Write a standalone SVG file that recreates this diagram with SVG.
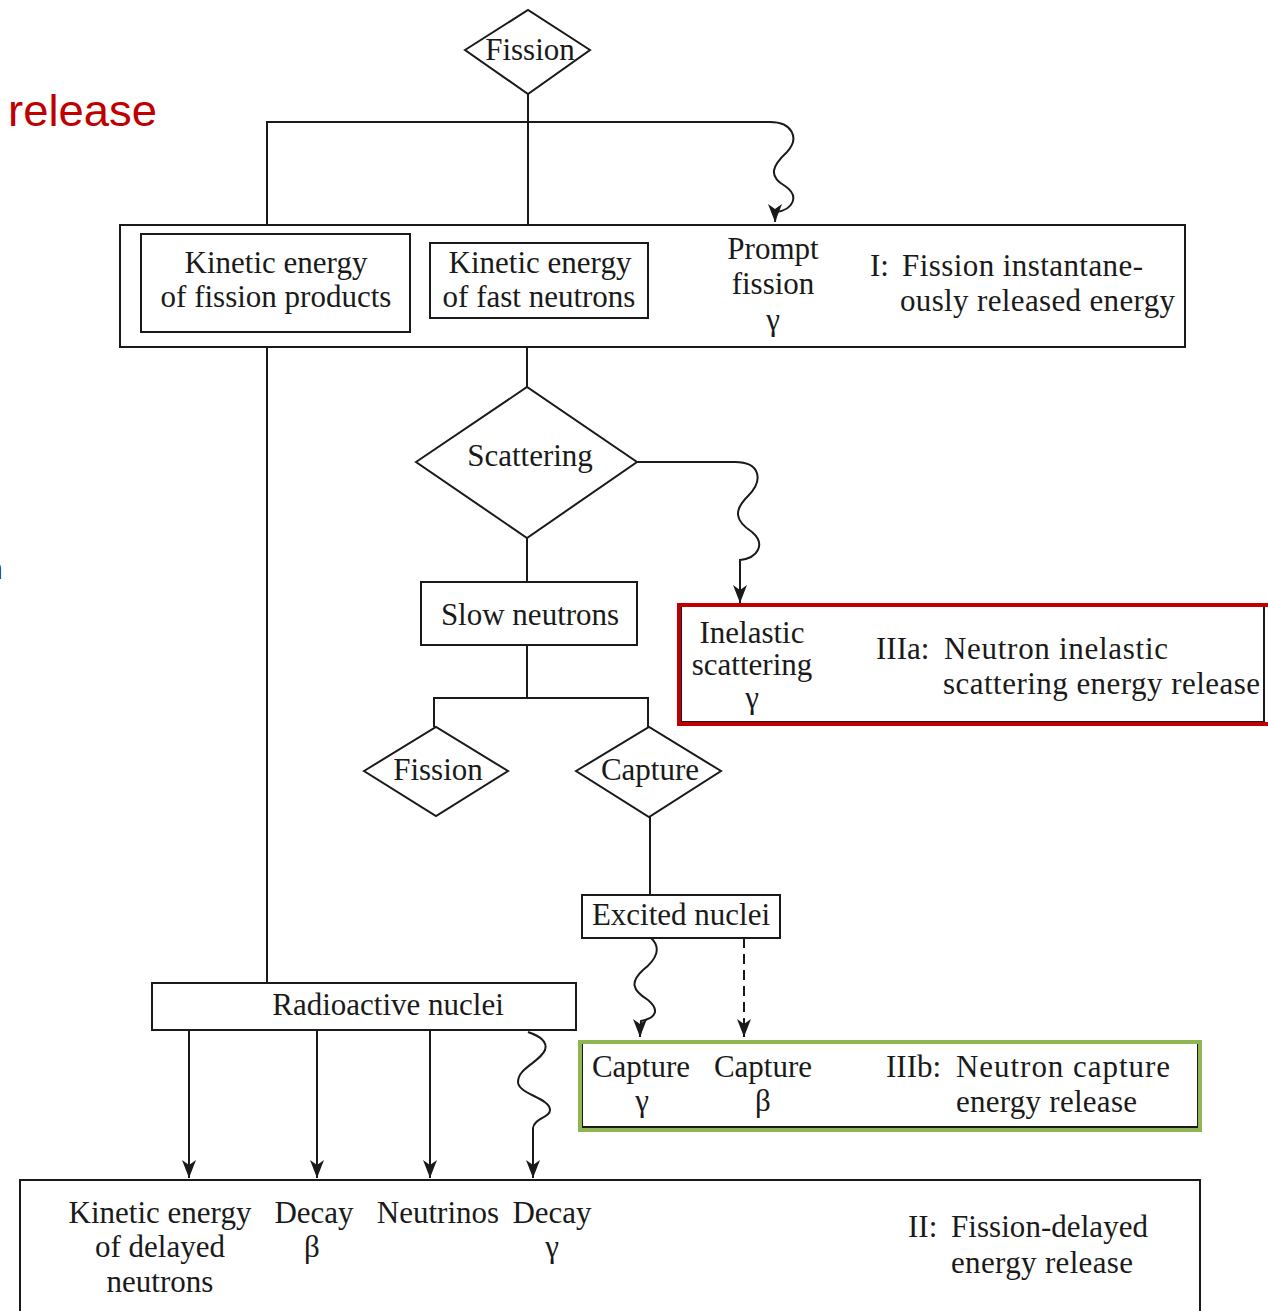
<svg xmlns="http://www.w3.org/2000/svg" width="1268" height="1311" viewBox="0 0 1268 1311">
<style>
.b{fill:#fff;stroke:#1a1a1a;stroke-width:2}
.t{font-family:"Liberation Serif","DejaVu Serif",serif;font-size:31px;fill:#1a1a1a}
.m{text-anchor:middle}
.c{fill:none;stroke:#1a1a1a;stroke-width:2}
.d{fill:none;stroke:#1a1a1a;stroke-width:2;stroke-dasharray:10 6}
</style>
<defs>
<marker id="av" viewBox="0 0 14 18" refX="7" refY="18" markerWidth="14" markerHeight="18" markerUnits="userSpaceOnUse">
<path d="M0,0 L7,5 L14,0 L7,18 Z" fill="#1a1a1a"/>
</marker>
</defs>
<rect width="1268" height="1311" fill="#fff"/>
<text x="8" y="126" font-family="'Liberation Sans','DejaVu Sans',sans-serif" font-size="44" fill="#c00000" textLength="149" lengthAdjust="spacingAndGlyphs">release</text>
<text x="-14" y="579" font-family="'Liberation Sans','DejaVu Sans',sans-serif" font-size="30" fill="#1a1a1a">n</text>

<g id="connectors">
<path class="c" d="M528,94 L528,243"/>
<path class="c" d="M267,225 L267,122 L770,122 C792,122 800,138 787,152 C772,166 768,176 785,186 C800,196 793,210 776,212 L775,222" marker-end="url(#av)"/>
<path class="c" d="M267,332 L267,983"/>
<path class="c" d="M527,318 L527,387"/>
<path class="c" d="M637,462 L735,462 C760,462 764,480 748,496 C734,510 734,520 752,532 C766,544 758,558 740,560 L740,603" marker-end="url(#av)"/>
<path class="c" d="M527,538 L527,582"/>
<path class="c" d="M527,645 L527,698 M434,727 L434,698 L648,698 L648,727"/>
<path class="c" d="M650,817 L650,895"/>
<path class="c" d="M651,938 C662,948 656,960 643,970 C630,982 632,990 648,1000 C660,1010 656,1018 641,1021 L640,1037" marker-end="url(#av)"/>
<path class="d" d="M744,938 L744,1037" marker-end="url(#av)"/>
<path class="c" d="M189,1030 L189,1178" marker-end="url(#av)"/>
<path class="c" d="M317,1030 L317,1178" marker-end="url(#av)"/>
<path class="c" d="M430,1030 L430,1178" marker-end="url(#av)"/>
<path class="c" d="M528,1032 C540,1036 548,1042 545,1050 C540,1062 518,1068 518,1082 C518,1094 550,1098 550,1110 C550,1118 534,1118 533,1128 L533,1178" marker-end="url(#av)"/>
</g>

<g id="fission-top">
<path class="b" d="M465,50 L528,10 L590,50 L528,94 Z"/>
<text class="t m" x="530" y="60">Fission</text>
</g>

<g id="group-I">
<rect class="b" x="120" y="225" width="1065" height="122"/>
<text class="t" x="870" y="276">I:</text>
<text class="t" x="902" y="276" textLength="241">Fission instantane-</text>
<text class="t" x="900" y="311" textLength="275">ously released energy</text>
</g>
<g id="ke-fission-products">
<rect class="b" x="141" y="234" width="269" height="98"/>
<text class="t m" x="276" y="273">Kinetic energy</text>
<text class="t m" x="276" y="307">of fission products</text>
</g>
<g id="ke-fast-neutrons">
<rect class="b" x="430" y="243" width="218" height="75"/>
<text class="t m" x="540" y="273">Kinetic energy</text>
<text class="t m" x="539" y="307">of fast neutrons</text>
</g>
<g id="prompt-gamma">
<text class="t m" x="773" y="259">Prompt</text>
<text class="t m" x="773" y="294">fission</text>
<text class="t m" x="773" y="330">γ</text>
</g>

<g id="scattering">
<path class="b" d="M416,462 L527,387 L637,462 L527,538 Z"/>
<text class="t m" x="530" y="466">Scattering</text>
</g>
<g id="slow-neutrons">
<rect class="b" x="421" y="582" width="216" height="63"/>
<text class="t m" x="530" y="625">Slow neutrons</text>
</g>

<g id="group-IIIa">
<rect class="b" x="681" y="606" width="583" height="116"/>
<rect x="679" y="605" width="600" height="119" fill="none" stroke="#c00000" stroke-width="4"/>
<text class="t m" x="752" y="643">Inelastic</text>
<text class="t m" x="752" y="675">scattering</text>
<text class="t m" x="752" y="708">γ</text>
<text class="t" x="876" y="659">IIIa:</text>
<text class="t" x="944" y="659" textLength="224">Neutron inelastic</text>
<text class="t" x="943" y="694" textLength="317">scattering energy release</text>
</g>

<g id="fission-slow">
<path class="b" d="M364,771 L436,727 L508,771 L436,816 Z"/>
<text class="t m" x="438" y="780">Fission</text>
</g>
<g id="capture">
<path class="b" d="M576,771 L649,727 L721,771 L649,817 Z"/>
<text class="t m" x="650" y="780">Capture</text>
</g>
<g id="excited-nuclei">
<rect class="b" x="582" y="895" width="198" height="43"/>
<text class="t m" x="681" y="925">Excited nuclei</text>
</g>

<g id="radioactive-nuclei">
<rect class="b" x="152" y="983" width="424" height="47"/>
<text class="t m" x="388" y="1015">Radioactive nuclei</text>
</g>

<g id="group-IIIb">
<rect class="b" x="582" y="1043" width="616" height="84"/>
<rect x="580" y="1042" width="620" height="88" fill="none" stroke="#8fb653" stroke-width="4"/>
<text class="t m" x="641" y="1077">Capture</text>
<text class="t m" x="642" y="1111">γ</text>
<text class="t m" x="763" y="1077">Capture</text>
<text class="t m" x="763" y="1111">β</text>
<text class="t" x="886" y="1077">IIIb:</text>
<text class="t" x="956" y="1077" textLength="214">Neutron capture</text>
<text class="t" x="956" y="1112" textLength="181">energy release</text>
</g>

<g id="group-II">
<rect class="b" x="20" y="1180" width="1180" height="150"/>
<text class="t m" x="160" y="1223">Kinetic energy</text>
<text class="t m" x="160" y="1257">of delayed</text>
<text class="t m" x="160" y="1292">neutrons</text>
<text class="t m" x="314" y="1223">Decay</text>
<text class="t m" x="312" y="1257">β</text>
<text class="t m" x="438" y="1223">Neutrinos</text>
<text class="t m" x="552" y="1223">Decay</text>
<text class="t m" x="552" y="1257">γ</text>
<text class="t" x="908" y="1237">II:</text>
<text class="t" x="951" y="1237" textLength="197">Fission-delayed</text>
<text class="t" x="951" y="1273" textLength="182">energy release</text>
</g>
</svg>
